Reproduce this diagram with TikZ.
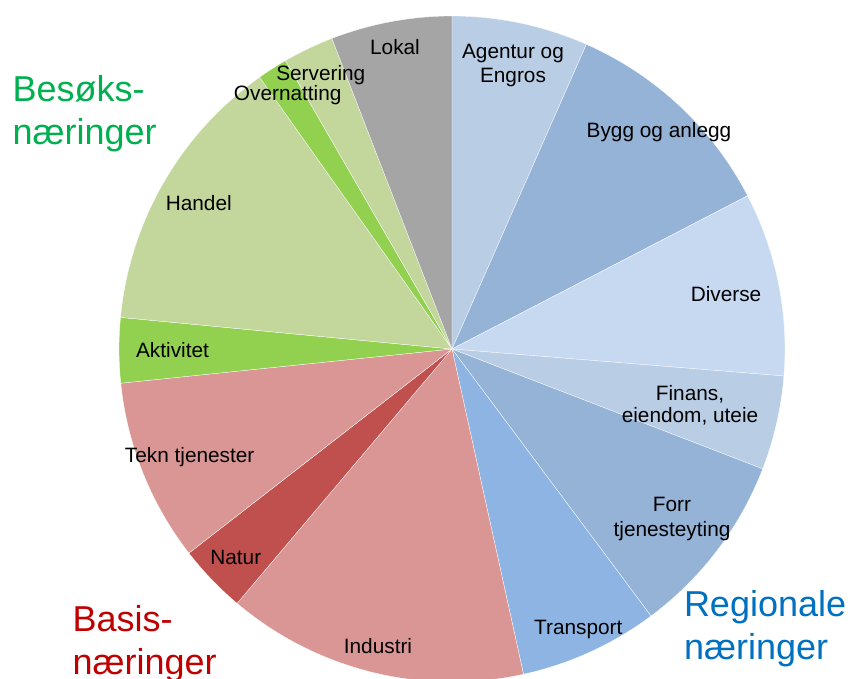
\documentclass[tikz,border=0pt]{standalone}
\usepackage{fontspec}
\setmainfont{Liberation Sans}
\definecolor{cGray}{HTML}{A5A5A5}
\definecolor{cBlueA}{HTML}{B9CDE5}
\definecolor{cBlueB}{HTML}{95B3D7}
\definecolor{cBlueC}{HTML}{C6D9F1}
\definecolor{cBlueT}{HTML}{8DB4E2}
\definecolor{cRedL}{HTML}{D99694}
\definecolor{cRedD}{HTML}{C0504D}
\definecolor{cGreenD}{HTML}{92D050}
\definecolor{cGreenL}{HTML}{C3D69B}
\definecolor{cBes}{HTML}{00B050}
\definecolor{cBas}{HTML}{C00000}
\definecolor{cReg}{HTML}{0070C0}
\begin{document}
\begin{tikzpicture}[x=1pt,y=1pt,
  lbl/.style={font=\fontsize{20.8}{24.4}\selectfont, inner sep=0pt, anchor=base},
  big/.style={font=\fontsize{36}{43}\selectfont, inner sep=0pt, anchor=base west},
  slice/.style={draw=white, line width=0.3pt}]
\useasboundingbox (0,-679) rectangle (854,0);
\fill[white] (0,-679) rectangle (854,0);
\coordinate (c) at (452,-349);
\foreach \a/\b/\col in {90/66.2/cBlueA, 66.2/27.4/cBlueB, 27.4/-4.65/cBlueC,
  -4.65/-21.1/cBlueA, -21.1/-53.3/cBlueB, -53.3/-77.6/cBlueT,
  -77.6/-130.2/cRedL, -130.2/-142.2/cRedD, -142.2/-174.1/cRedL,
  -174.1/-185.45/cGreenD, 174.55/125.3/cGreenL, 125.3/120.0/cGreenD,
  120.0/111.15/cGreenL, 111.15/90/cGray}
  \filldraw[slice, fill=\col] (c) -- ++(\a:333pt) arc[start angle=\a, end angle=\b, radius=333pt] -- cycle;
% slice labels
\node[lbl] (lokal) at (395,-55) {Lokal};
\node[lbl] (agentur1) at (513,-58.3) {Agentur og};
\node[lbl] (agentur2) at (513,-82.7) {Engros};
\node[lbl] (bygg) at (659,-138) {Bygg og anlegg};
\node[lbl] (diverse) at (726,-301.7) {Diverse};
\node[lbl] (finans1) at (690,-400) {Finans,};
\node[lbl] (finans2) at (690,-422.7) {eiendom, uteie};
\node[lbl] (forr1) at (672,-511.7) {Forr};
\node[lbl] (forr2) at (672,-536.7) {tjenesteyting};
\node[lbl] (transport) at (578.3,-634.3) {Transport};
\node[lbl] (industri) at (378,-653.3) {Industri};
\node[lbl] (natur) at (235.8,-564.3) {Natur};
\node[lbl] (tekn) at (189.7,-462.7) {Tekn tjenester};
\node[lbl] (aktivitet) at (172.5,-357.3) {Aktivitet};
\node[lbl] (handel) at (198.8,-210.7) {Handel};
\node[lbl] (servering) at (320.8,-81) {Servering};
\node[lbl] (overnatting) at (287.7,-100.7) {Overnatting};
% group labels
\node[big, text=cBes] (bes1) at (12.5,-101.7) {Besøks-};
\node[big, text=cBes] (bes2) at (12.5,-145) {næringer};
\node[big, text=cBas] (bas1) at (72.4,-631.7) {Basis-};
\node[big, text=cBas] (bas2) at (72.4,-674.7) {næringer};
\node[big, text=cReg] (reg1) at (683.8,-616) {Regionale};
\node[big, text=cReg] (reg2) at (683.8,-659) {næringer};
\end{tikzpicture}
\end{document}
